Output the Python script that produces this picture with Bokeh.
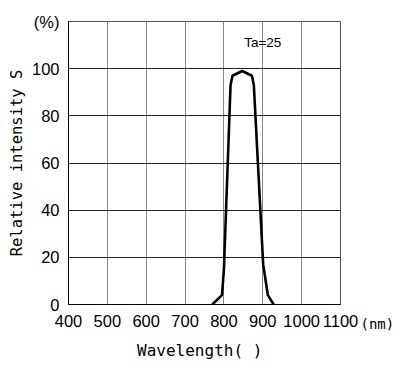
from bokeh.plotting import figure
from bokeh.models import Range1d, FixedTicker, LinearAxis
from bokeh.core.properties import value
from bokeh.embed import file_html
from bokeh.resources import INLINE

# Data
wavelength = [770, 795, 800, 817, 822, 847, 872, 877, 901, 913, 928]
rel_intensity = [0, 4, 15, 93, 97, 99, 97, 93, 17, 4, 0]
x_ticks = [400, 500, 600, 700, 800, 900, 1000, 1100]
y_ticks = [0, 20, 40, 60, 80, 100, 120]
y_tick_labels = {120: "(%)"}
unit_label = {0: "\n\n(nm)"}
note_text = "Ta=25"
note_x = [900]
note_y = [111]

p = figure(width=398, height=365, output_backend="svg", toolbar_location=None,
           x_range=Range1d(400, 1100), y_range=Range1d(0, 120),
           min_border_left=68, min_border_top=21, min_border_right=58, min_border_bottom=61)
p.background_fill_color = "white"
p.border_fill_color = "white"
p.outline_line_color = "#555555"
p.outline_line_width = 1

p.line(wavelength, rel_intensity, line_color="black", line_width=2.6)
p.text(x=note_x, y=note_y, text=[note_text], text_font=value("Liberation Sans"),
       text_font_size="13.5px", text_align="center", text_baseline="middle", text_color="black")

p.xaxis.ticker = FixedTicker(ticks=x_ticks)
p.yaxis.ticker = FixedTicker(ticks=y_ticks)
p.yaxis.major_label_overrides = y_tick_labels

for ax in (p.xaxis[0], p.yaxis[0]):
    ax.major_tick_line_color = None
    ax.minor_tick_line_color = None
    ax.axis_line_color = "black"
    ax.major_label_text_font = "Liberation Sans"
    ax.major_label_text_font_size = "16.5px"
    ax.major_label_text_color = "black"
    ax.axis_label_text_font = "DejaVu Sans Mono"
    ax.axis_label_text_font_style = "normal"
    ax.axis_label_text_color = "black"

p.xaxis.major_label_standoff = 4
p.yaxis.major_label_standoff = 3
p.xaxis.axis_label = "Wavelength(  )"
p.xaxis.axis_label_text_font_size = "16px"
p.xaxis.axis_label_standoff = 11
p.yaxis.axis_label = "Relative intensity S"
p.yaxis.axis_label_text_font_size = "15.5px"
p.yaxis.axis_label_standoff = 3

# unit "(nm)" after the last x tick label, drawn by a right-hand axis
unit_axis = LinearAxis(ticker=FixedTicker(ticks=[y_ticks[0]]), major_label_overrides=unit_label)
unit_axis.axis_line_color = None
unit_axis.major_tick_line_color = None
unit_axis.minor_tick_line_color = None
unit_axis.major_label_standoff = 14
unit_axis.major_label_text_font = "DejaVu Sans Mono"
unit_axis.major_label_text_font_size = "14px"
unit_axis.major_label_text_align = "left"
unit_axis.major_label_text_color = "black"
p.add_layout(unit_axis, "right")

p.xgrid.ticker = FixedTicker(ticks=x_ticks)
p.ygrid.ticker = FixedTicker(ticks=y_ticks)
p.xgrid.grid_line_color = "#888888"
p.ygrid.grid_line_color = "#222222"
p.xgrid.grid_line_width = 1
p.ygrid.grid_line_width = 1

open("out.html", "w").write(file_html(p, INLINE))
